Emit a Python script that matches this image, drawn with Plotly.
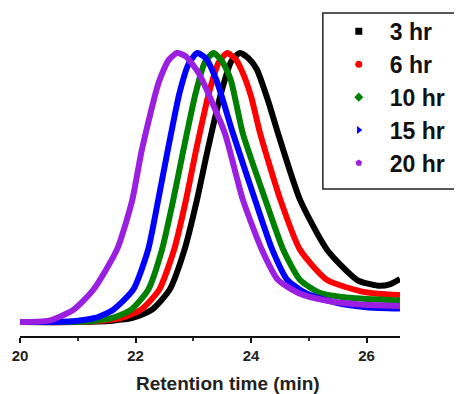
import plotly.graph_objects as go

# ---- data (retention time in min, normalized RI signal) ----
labels = ["3 hr", "6 hr", "10 hr", "15 hr", "20 hr"]
colors = ["#000000", "#ff0000", "#008000", "#0000ff", "#9b1fe0"]
symbols = ["square", "circle", "diamond", "triangle-right", "pentagon"]
x_title = "Retention time (min)"

x_3hr = [20.0, 21.0, 21.6, 21.95, 22.28, 22.59, 22.85, 23.06, 23.25, 23.48, 23.66, 23.81,
         23.96, 24.1, 24.3, 24.47, 24.85, 25.32, 25.84, 26.2, 26.4, 26.58]
y_3hr = [0.0, 0.0, 0.005, 0.015, 0.045, 0.12, 0.27, 0.45, 0.64, 0.85, 0.97, 1.0,
         0.98, 0.94, 0.82, 0.70, 0.454, 0.268, 0.156, 0.135, 0.14, 0.16]

x_6hr = [20.0, 21.0, 21.4, 21.75, 22.09, 22.41, 22.67, 22.87, 23.05, 23.27, 23.44, 23.59,
         23.74, 23.85, 24.0, 24.16, 24.51, 24.85, 25.32, 25.89, 26.2, 26.58]
y_6hr = [0.0, 0.0, 0.005, 0.015, 0.045, 0.12, 0.27, 0.45, 0.64, 0.85, 0.965, 1.0,
         0.975, 0.93, 0.84, 0.70, 0.454, 0.268, 0.156, 0.115, 0.105, 0.10]

x_10hr = [20.0, 20.9, 21.3, 21.6, 21.92, 22.22, 22.46, 22.65, 22.83, 23.04, 23.2, 23.35,
          23.5, 23.65, 23.86, 24.25, 24.56, 24.85, 25.2, 25.7, 26.58]
y_10hr = [0.0, 0.0, 0.005, 0.015, 0.045, 0.12, 0.27, 0.45, 0.64, 0.85, 0.965, 1.0,
          0.97, 0.90, 0.70, 0.454, 0.268, 0.156, 0.108, 0.09, 0.08]

x_15hr = [20.0, 20.6, 21.0, 21.3, 21.61, 21.96, 22.22, 22.39, 22.56, 22.76, 22.92, 23.07,
          23.22, 23.4, 23.69, 24.07, 24.37, 24.63, 24.97, 25.5, 26.0, 26.58]
y_15hr = [0.0, 0.0, 0.005, 0.015, 0.045, 0.12, 0.27, 0.45, 0.64, 0.85, 0.96, 1.0,
          0.98, 0.90, 0.70, 0.454, 0.268, 0.156, 0.105, 0.07, 0.055, 0.05]

x_20hr = [20.0, 20.5, 20.92, 21.27, 21.68, 21.94, 22.11, 22.4, 22.57, 22.72, 22.87, 23.1,
          23.3, 23.55, 23.86, 24.19, 24.47, 24.85, 25.3, 25.9, 26.58]
y_20hr = [0.0, 0.005, 0.045, 0.12, 0.27, 0.45, 0.64, 0.89, 0.973, 1.0, 0.988, 0.923,
          0.83, 0.70, 0.454, 0.268, 0.156, 0.105, 0.08, 0.065, 0.06]

xs = [x_3hr, x_6hr, x_10hr, x_15hr, x_20hr]
ys = [y_3hr, y_6hr, y_10hr, y_15hr, y_20hr]

x_ticks = [20, 22, 24, 26]

fig = go.Figure()

for xv, yv, c in zip(xs, ys, colors):
    fig.add_trace(go.Scatter(
        x=xv, y=yv, mode="lines",
        line=dict(color=c, width=6, shape="spline", smoothing=0.6),
        showlegend=False, hoverinfo="skip"))

# legend entries (markers only)
for lab, c, s in zip(labels, colors, symbols):
    fig.add_trace(go.Scatter(
        x=[None], y=[None], mode="markers", name=lab,
        marker=dict(color=c, symbol=s, size=7)))

fig.update_layout(
    width=462, height=394,
    margin=dict(l=12, r=70, t=12, b=66, autoexpand=False),
    paper_bgcolor="white", plot_bgcolor="white",
    font=dict(family="Liberation Sans, Arial, sans-serif", color="#222"),
    showlegend=True,
    legend=dict(
        x=0.81, y=1.032, xref="paper", yref="paper",
        xanchor="left", yanchor="top",
        font=dict(size=23, color="#111", weight="bold"),
        bgcolor="rgba(0,0,0,0)", borderwidth=0,
        itemwidth=52,
    ),
    shapes=[dict(type="rect", xref="paper", yref="paper",
                 x0=0.797, x1=1.155, y0=0.465, y1=1.022,
                 line=dict(color="#222", width=1.5), fillcolor="rgba(0,0,0,0)")],
    annotations=[dict(text=x_title, xref="paper", yref="paper",
                      x=0.547, y=-0.149, xanchor="center", yanchor="middle",
                      showarrow=False,
                      font=dict(size=19, color="#222", weight="bold"))],
    xaxis=dict(
        range=[20, 26.58], tickvals=x_ticks, ticktext=[str(t) for t in x_ticks],
        showgrid=False, zeroline=False,
        showline=True, linecolor="#111", linewidth=2,
        ticks="outside", ticklen=5, tickwidth=2, tickcolor="#111",
        tickfont=dict(size=15, color="#222", weight="bold"),
        minor=dict(dtick=1, ticks="outside", ticklen=3, tickwidth=1.5, tickcolor="#333"),
    ),
    yaxis=dict(range=[-0.052, 1.123], visible=False, showgrid=False, zeroline=False),
)

fig.write_html("out.html")
